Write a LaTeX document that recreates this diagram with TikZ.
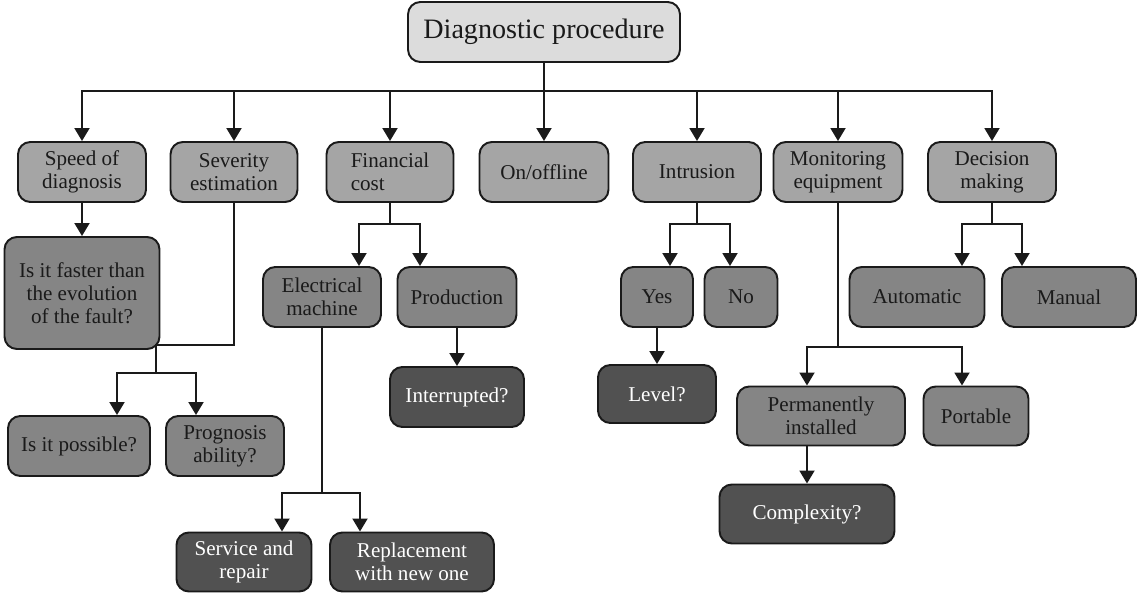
\documentclass[tikz,border=0pt]{standalone}
\usepackage{fontspec}
\setmainfont{Liberation Serif}
\usetikzlibrary{arrows.meta, positioning, calc}
\definecolor{rootgray}{HTML}{DCDCDC}
\definecolor{midgray}{HTML}{A5A5A5}
\definecolor{leafgray}{HTML}{858585}
\definecolor{deepgray}{HTML}{515151}
\definecolor{linegray}{HTML}{1A1A1A}

\begin{document}
\begin{tikzpicture}[
    x=0.02cm, y=-0.02cm,
    box/.style={rectangle, rounded corners=7pt, draw=linegray, fill=#1,
                line width=1.1pt, minimum height=1.2cm, inner sep=2pt,
                align=center, text=linegray, font=\fontsize{12}{13}\selectfont},
    darkbox/.style={box=deepgray, text=white},
    arrow/.style={-{Triangle[length=2.6mm, width=3mm]}, line width=1.1pt, color=linegray},
]
\useasboundingbox (0,0) rectangle (1137,594);

% Root
\node[box=rootgray, minimum width=5.44cm, font=\fontsize{16}{18}\selectfont]
      (root) at (544,32) {Diagnostic procedure};

% First level
\node[box=midgray, minimum width=2.56cm] (speed) at (82,172) {Speed of\\diagnosis};
\node[box=midgray, minimum width=2.54cm] (sev) at (234,172) {Severity\\estimation};
\node[box=midgray, minimum width=2.54cm, align=left] (fin) at (390,172) {Financial\\cost};
\node[box=midgray, minimum width=2.58cm] (onoff) at (544,172) {On/offline};
\node[box=midgray, minimum width=2.56cm] (intr) at (697,172) {Intrusion};
\node[box=midgray, minimum width=2.58cm] (mon) at (838,172) {Monitoring\\equipment};
\node[box=midgray, minimum width=2.56cm] (dec) at (992,172) {Decision\\making};

% Bus from root
\coordinate (bus) at (544,91);
\foreach \n in {speed, sev, fin, onoff, intr, mon, dec}
    \draw[arrow] (root.south) |- (bus) -| (\n.north);

% Speed of diagnosis
\node[box=leafgray, minimum width=3.1cm, minimum height=2.24cm]
      (faster) at (82,293) {Is it faster than\\the evolution\\of the fault?};
\draw[arrow] (speed.south) -- (faster.north);

% Severity estimation
\node[box=leafgray, minimum width=2.84cm] (possible) at (79,446) {Is it possible?};
\node[box=leafgray, minimum width=2.36cm] (prog) at (225,446) {Prognosis\\ability?};
\coordinate (sevturn) at (156,345);
\coordinate (sevL) at (117,373);
\coordinate (sevR) at (196,373);
\draw[arrow] (sev.south) |- (sevturn) |- (sevL) -- (sevL |- possible.north);
\draw[arrow] (sevturn) |- (sevR) -- (sevR |- prog.north);

% Financial cost
\node[box=leafgray, minimum width=2.36cm] (elec) at (322,297) {Electrical\\machine};
\node[box=leafgray, minimum width=2.38cm] (prod) at (457,297) {Production};
\coordinate (finL) at (359,224);
\coordinate (finR) at (420,224);
\draw[arrow] (fin.south) |- (finL) -- (finL |- elec.north);
\draw[arrow] (fin.south) |- (finR) -- (finR |- prod.north);

\node[darkbox, minimum width=2.68cm] (interrupted) at (457,397) {Interrupted?};
\draw[arrow] (prod) -- (interrupted);

\node[darkbox, minimum width=2.7cm, minimum height=1.18cm] (service) at (244,562) {Service and\\repair};
\node[darkbox, minimum width=3.28cm, minimum height=1.18cm] (replace) at (412,562) {Replacement\\with new one};
\coordinate (elecL) at (282,493);
\coordinate (elecR) at (360,493);
\draw[arrow] (elec.south) |- (elecL) -- (elecL |- service.north);
\draw[arrow] (elec.south) |- (elecR) -- (elecR |- replace.north);

% Intrusion
\node[box=leafgray, minimum width=1.44cm] (yes) at (657,297) {Yes};
\node[box=leafgray, minimum width=1.46cm] (no) at (741,297) {No};
\coordinate (intrL) at (670,224);
\coordinate (intrR) at (730,224);
\draw[arrow] (intr.south) |- (intrL) -- (intrL |- yes.north);
\draw[arrow] (intr.south) |- (intrR) -- (intrR |- no.north);

\node[darkbox, minimum width=2.36cm, minimum height=1.16cm] (level) at (657,394) {Level?};
\draw[arrow] (yes) -- (level);

% Monitoring equipment
\node[box=leafgray, minimum width=3.36cm, minimum height=1.18cm] (perm) at (821,416) {Permanently\\installed};
\node[box=leafgray, minimum width=2.1cm, minimum height=1.18cm] (portable) at (976,416) {Portable};
\coordinate (monL) at (807,347);
\coordinate (monR) at (962,347);
\draw[arrow] (mon.south) |- (monL) -- (monL |- perm.north);
\draw[arrow] (mon.south) |- (monR) -- (monR |- portable.north);

\node[darkbox, minimum width=3.5cm, minimum height=1.18cm] (complexity) at (807,514) {Complexity?};
\draw[arrow] (perm.south -| complexity.north) -- (complexity.north);

% Decision making
\node[box=leafgray, minimum width=2.7cm] (automatic) at (917,297) {Automatic};
\node[box=leafgray, minimum width=2.68cm] (manual) at (1069,297) {Manual};
\coordinate (decL) at (962,224);
\coordinate (decR) at (1022,224);
\draw[arrow] (dec.south) |- (decL) -- (decL |- automatic.north);
\draw[arrow] (dec.south) |- (decR) -- (decR |- manual.north);

\end{tikzpicture}
\end{document}
